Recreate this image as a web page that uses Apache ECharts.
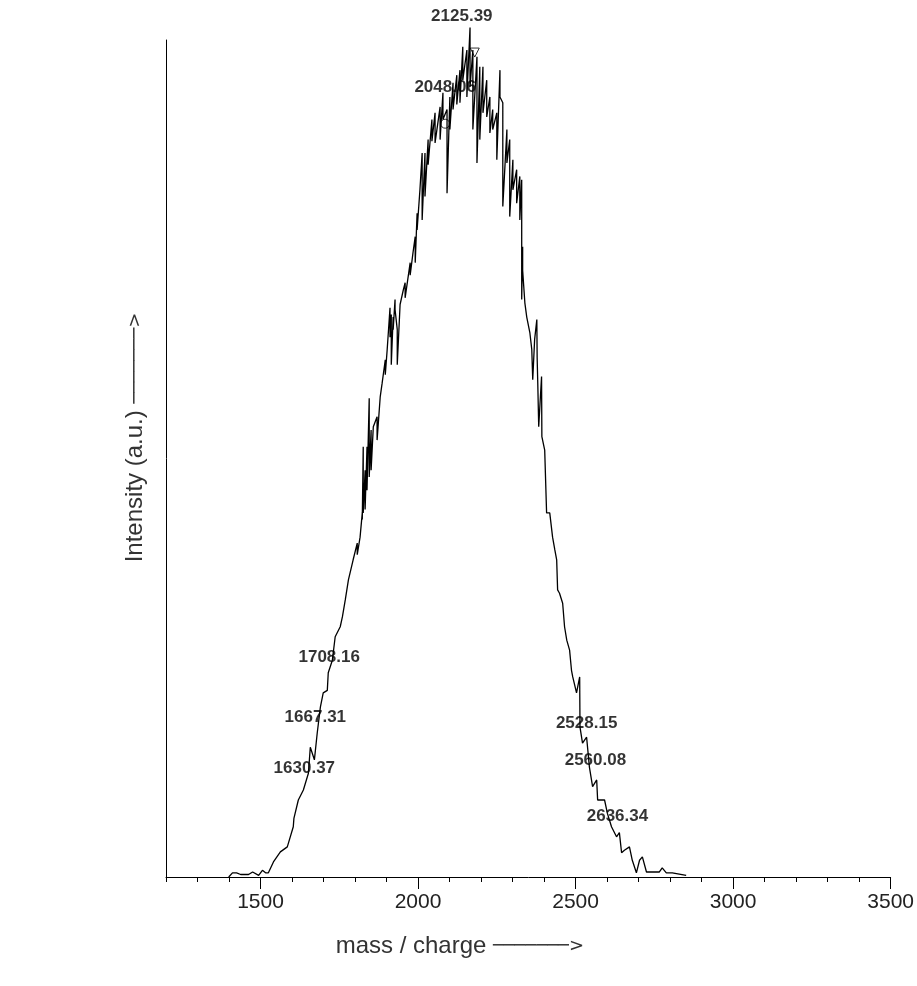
<!DOCTYPE html>
<html>
<head>
<meta charset="utf-8">
<script src="https://cdn.jsdelivr.net/npm/echarts@6/dist/echarts.min.js"></script>
<style>
  html, body { margin: 0; padding: 0; background: #fff; }
  #main { width: 917px; height: 986px; }
</style>
</head>
<body>
<div id="main"></div>
<script>
// spectrum: mass/charge and intensity (a.u., peak ~ 100)
// repeated masses are the vertical noise strokes of the trace
var massValues = [
  1399, 1411, 1424, 1437, 1462, 1475, 1494, 1506, 1516,
  1525, 1541, 1563, 1585, 1604, 1606, 1620, 1636, 1652, 1658,
  1671, 1680, 1690, 1699, 1712, 1715, 1728, 1737, 1753, 1760,
  1769, 1779, 1794, 1807, 1807, 1816, 1823, 1823, 1826, 1826,
  1832, 1832, 1838, 1838, 1845, 1845, 1851, 1851, 1858, 1870,
  1870, 1880, 1886, 1896, 1896, 1902, 1911, 1911, 1915, 1915,
  1921, 1921, 1927, 1927, 1934, 1934, 1943, 1953, 1959, 1959,
  1965, 1975, 1975, 1984,
  1991, 1991, 1997, 1997, 2006, 2013, 2013, 2022, 2022, 2032,
  2032, 2044, 2044, 2054, 2054, 2070, 2070, 2079, 2079, 2092,
  2092, 2101, 2101, 2111, 2111, 2123, 2123, 2133, 2133, 2142,
  2142, 2155, 2155, 2165, 2165, 2174, 2174, 2187, 2187, 2196,
  2196, 2206, 2206, 2218, 2218, 2228, 2228, 2237, 2237, 2250,
  2250, 2260, 2260, 2269, 2269, 2282, 2282, 2291, 2291, 2301,
  2301, 2313, 2313, 2323, 2323, 2329, 2329, 2332, 2332,
  2339, 2345, 2355, 2361, 2364, 2370, 2377, 2378, 2380, 2383,
  2392, 2393, 2402, 2408, 2418, 2427, 2434, 2440, 2443, 2449,
  2459, 2465, 2472, 2481, 2487, 2491, 2503, 2513, 2514, 2522,
  2535, 2544, 2554, 2567, 2570, 2592, 2601, 2614, 2630, 2639,
  2646, 2655, 2671, 2680, 2693, 2703, 2712, 2725, 2744, 2766,
  2775, 2788, 2807, 2851
];
var intensityValues = [
  0.0, 0.5, 0.5, 0.3, 0.3, 0.6, 0.2, 0.8, 0.5,
  0.5, 1.8, 3.0, 3.6, 6.0, 7.0, 9.2, 10.4, 12.4, 15.5,
  14.0, 17.2, 20.3, 22.0, 22.3, 24.4, 25.9, 28.7, 29.9, 31.1,
  33.1, 35.5, 37.9, 39.9, 38.5, 40.6, 43.5, 42.7, 51.4, 43.5,
  48.6, 43.9, 51.4, 46.2, 57.2, 47.8, 53.4, 48.6, 53.8, 55.0,
  52.2, 57.4, 59.0, 61.8, 60.0, 63.0, 68.0, 64.5, 67.2, 61.2,
  66.9, 65.4, 69.0, 67.8, 65.4, 61.2, 68.4, 70.1, 71.0, 69.2,
  69.2, 73.4, 71.9, 74.6,
  76.5, 73.4, 79.3, 77.3, 82.1, 86.5, 78.5, 86.5, 81.3, 88.1,
  85.1, 90.5, 87.9, 91.3, 87.7, 92.0, 88.1, 93.7, 90.5, 91.7,
  81.7, 93.2, 89.3, 94.9, 91.7, 95.8, 92.3, 96.4, 92.5, 99.2,
  95.2, 98.8, 93.2, 101.5, 94.4, 98.8, 89.3, 98.0, 85.3, 96.8,
  88.1, 96.8, 91.3, 95.2, 90.8, 93.2, 88.9, 91.7, 89.3, 91.3,
  85.7, 96.4, 93.2, 92.5, 80.1, 89.3, 85.3, 88.1, 78.9, 85.7,
  82.1, 84.5, 80.5, 83.7, 78.5, 83.3, 69.0, 75.3, 72.5,
  68.6, 66.9, 65.0, 63.0, 59.4, 64.2, 66.6, 62.1, 59.0, 53.8,
  59.8, 52.6, 51.0, 43.5, 43.5, 40.6, 39.1, 37.9, 34.3, 33.9,
  32.7, 29.9, 28.3, 27.1, 24.7, 23.9, 22.0, 23.9, 17.9, 16.0,
  16.7, 13.1, 10.8, 11.6, 9.2, 9.2, 7.6, 6.0, 4.8, 5.3,
  2.9, 3.2, 3.6, 2.0, 0.5, 2.0, 2.4, 0.6, 0.6, 0.6,
  1.1, 0.5, 0.5, 0.2
];

// annotated peaks: label text, where the label sits (mass, intensity)
var peakLabels = ['2125.39', '2048.06', '1708.16', '1667.31', '1630.37', '2528.15', '2560.08', '2636.34'];
var peakLabelMass = [2139, 2086, 1718, 1674, 1639, 2535, 2563, 2633];
var peakLabelHeight = [102.8, 94.3, 26.3, 19.1, 13.0, 18.4, 14.0, 7.2];

// small open markers drawn on the trace
var markerMass = [2180, 2086];
var markerHeight = [98.5, 90.0];
var markerShape = ['triangle', 'circle'];

var xMajorTicks = [1500, 2000, 2500, 3000, 3500];
var xMinorTicks = [1200, 1300, 1400, 1600, 1700, 1800, 1900, 2100, 2200, 2300, 2400,
                   2600, 2700, 2800, 2900, 3100, 3200, 3300, 3400];

var spectrum = massValues.map(function (m, i) { return [m, intensityValues[i]]; });
var labelData = peakLabels.map(function (t, i) {
    return { value: [peakLabelMass[i], peakLabelHeight[i]], name: t };
});
var markerData = markerMass.map(function (m, i) {
    return {
        value: [m, markerHeight[i]],
        symbol: markerShape[i],
        symbolRotate: markerShape[i] == 'triangle' ? 180 : 0
    };
});

var titleFont = 'Liberation Sans, Arial, sans-serif';
var arrowStyle = { fontFamily: 'DejaVu Sans', fontSize: 18, color: '#333' };

var chart = echarts.init(document.getElementById('main'));
chart.setOption({
    backgroundColor: '#fff',
    animation: false,
    grid: { left: 166, right: 24, top: 40, bottom: 109 },
    xAxis: [
        {
            type: 'value',
            min: 1200,
            max: 3500,
            name: 'mass / charge {arr|───────>}',
            nameLocation: 'middle',
            nameGap: 57,
            nameTextStyle: {
                color: '#333',
                fontFamily: titleFont,
                fontSize: 24,
                padding: [0, 137, 0, 0],
                rich: { arr: arrowStyle }
            },
            axisLine: { lineStyle: { color: '#000', width: 1 } },
            axisTick: { length: 12, lineStyle: { color: '#000' }, customValues: xMajorTicks },
            axisLabel: {
                customValues: xMajorTicks,
                margin: 15,
                color: '#222',
                fontFamily: titleFont,
                fontSize: 21,
                formatter: function (v) { return String(v); }
            },
            splitLine: { show: false }
        },
        {
            type: 'value',
            min: 1200,
            max: 3500,
            position: 'bottom',
            axisLine: { show: false },
            axisTick: { length: 5, lineStyle: { color: '#000' }, customValues: xMinorTicks },
            axisLabel: { show: false },
            splitLine: { show: false }
        }
    ],
    yAxis: {
        type: 'value',
        min: 0,
        max: 100,
        name: 'Intensity (a.u.) {arr|───────>}',
        nameLocation: 'middle',
        nameRotate: 90,
        nameGap: 19,
        nameTextStyle: {
            color: '#333',
            fontFamily: titleFont,
            fontSize: 24,
            padding: [0, 0, 0, 42],
            rich: { arr: arrowStyle }
        },
        axisLine: { show: true, lineStyle: { color: '#000', width: 1 } },
        axisTick: { show: false },
        axisLabel: { show: false },
        splitLine: { show: false }
    },
    series: [
        {
            type: 'line',
            data: spectrum,
            showSymbol: false,
            clip: false,
            lineStyle: { color: '#000', width: 1.3 },
            silent: true
        },
        {
            type: 'scatter',
            data: markerData,
            symbolSize: 9,
            clip: false,
            itemStyle: { color: '#fff', borderColor: '#000', borderWidth: 1 },
            silent: true
        },
        {
            type: 'scatter',
            data: labelData,
            symbolSize: 0,
            clip: false,
            label: {
                show: true,
                position: 'inside',
                formatter: '{b}',
                color: '#000',
                textBorderWidth: 0,
                fontFamily: titleFont,
                fontWeight: 'bold',
                fontSize: 17
            },
            silent: true
        }
    ]
});
</script>
</body>
</html>
